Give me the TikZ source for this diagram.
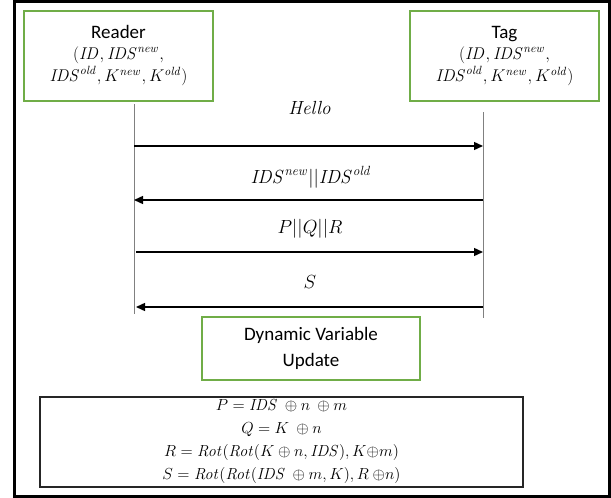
\RequirePackage{fix-cm}
\documentclass[tikz,border=0pt]{standalone}
\usepackage[no-math]{fontspec}
\setmainfont{Carlito}
\usetikzlibrary{arrows.meta}
\definecolor{boxgreen}{HTML}{70AD47}
\tikzset{
  greenbox/.style={draw=boxgreen, line width=1.8pt, align=center, inner sep=0pt, font=\fontsize{17}{22}\selectfont},
  lifeline/.style={draw=gray, line width=1pt},
  msg/.style={draw=black, line width=1.4pt, -{Triangle[length=9pt,width=8pt]}},
  msglabel/.style={font=\fontsize{19}{22}\selectfont},
  formulabox/.style={draw=black!85, line width=1.4pt, align=center, inner sep=0pt, font=\fontsize{16}{23}\selectfont}
}
\newcommand{\mi}[1]{\mathit{#1}}
\newcommand{\bigsans}[1]{{\fontsize{19}{22}\selectfont #1}}
\begin{document}
\begin{tikzpicture}[x=1pt,y=-1pt]
\useasboundingbox (0,0) rectangle (611,498);
\draw[line width=3pt] (14.5,1.5) rectangle (609.5,496.5);
% actors
\node[greenbox, minimum width=189pt, minimum height=90pt] (reader) at (118.5,56)
  {\bigsans{Reader}\\[-1pt] $(\mi{ID},\mi{IDS}^{\mi{new}},$\\ $\mi{IDS}^{\mi{old}},K^{\mi{new}},K^{\mi{old}})$};
\node[greenbox, minimum width=189pt, minimum height=90pt] (tag) at (504.5,56)
  {\bigsans{Tag}\\[-1pt] $(\mi{ID},\mi{IDS}^{\mi{new}},$\\ $\mi{IDS}^{\mi{old}},K^{\mi{new}},K^{\mi{old}})$};
% lifeline ends
\coordinate (rtop) at (134,104);
\coordinate (rbot) at (134,314);
\coordinate (ttop) at (483,112);
\coordinate (tbot) at (483,318);
\draw[lifeline] (rtop) -- (rbot);
\draw[lifeline] (ttop) -- (tbot);
% messages
\coordinate (r1) at (134,146); \coordinate (t1) at (483,146);
\coordinate (r2) at (134,200); \coordinate (t2) at (483,200);
\coordinate (r3) at (136,252); \coordinate (t3) at (483,252);
\coordinate (r4) at (136,307); \coordinate (t4) at (483,307);
\draw[msg] (r1) -- (t1);
\draw[msg] (t2) -- (r2);
\draw[msg] (r3) -- (t3);
\draw[msg] (t4) -- (r4);
\node[msglabel] (l1) at (310,108) {$\mi{Hello}$};
\node[msglabel] (l2) at (311,177) {$\mi{IDS}^{\mi{new}}||\mi{IDS}^{\mi{old}}$};
\node[msglabel] (l3) at (310,229) {$P||Q||R$};
\node[msglabel] (l4) at (310,282) {$S$};
% update box
\node[greenbox, font=\fontsize{19}{26}\selectfont, minimum width=218pt, minimum height=63pt] (upd) at (311,348.5)
  {Dynamic Variable\\ Update};
% formula box
\node[formulabox, minimum width=483pt, minimum height=90pt] (form) at (281.5,442)
  {$P=\mi{IDS}\ \oplus n\ \oplus m$\\
   $Q=K\ \oplus n$\\
   $R=\mi{Rot}(\mi{Rot}(K\oplus n,\mi{IDS}),K{\oplus}m)$\\
   $S=\mi{Rot}(\mi{Rot}(\mi{IDS}\ \oplus m,K),R\ {\oplus}n)$};
\end{tikzpicture}
\end{document}
